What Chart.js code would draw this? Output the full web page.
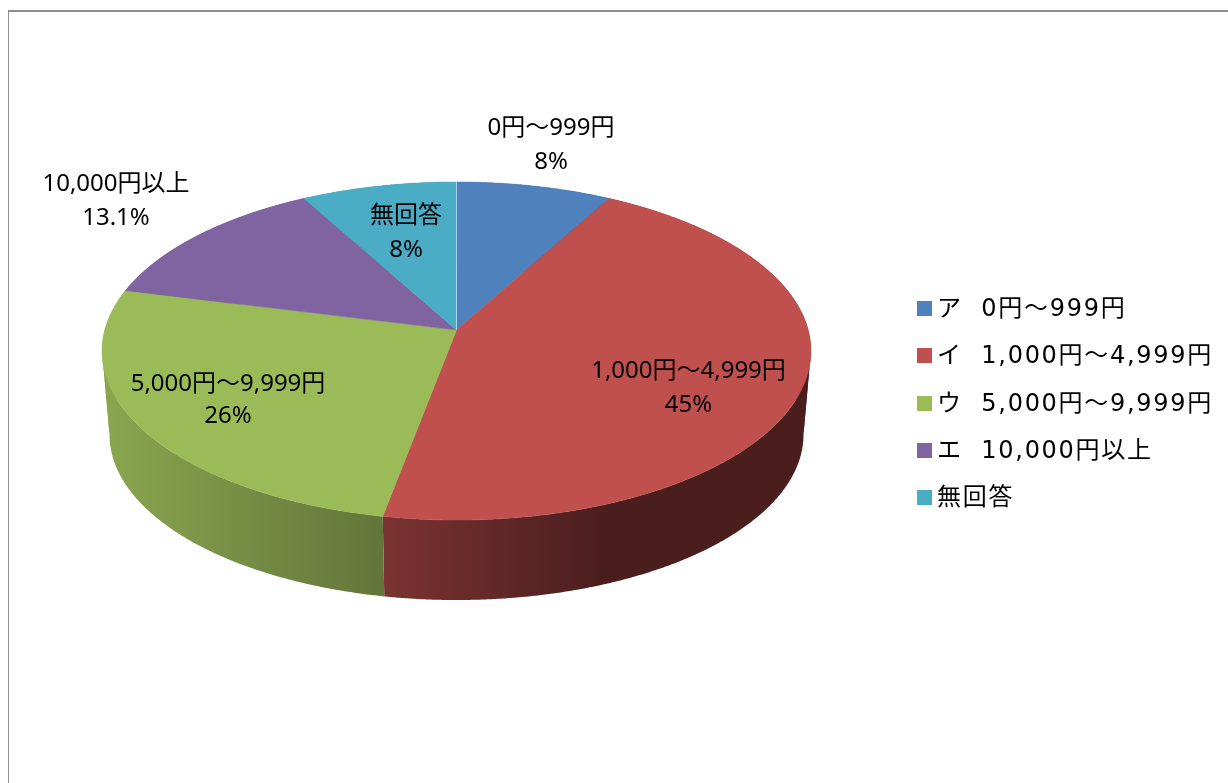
<!DOCTYPE html>
<html lang="ja">
<head>
<meta charset="utf-8">
<title>3D pie</title>
<script src="https://cdn.jsdelivr.net/npm/chart.js@4/dist/chart.umd.min.js"></script>
<style>
  html, body { margin: 0; width: 1228px; height: 783px; overflow: hidden; background: #fff; }
  #frame { position: absolute; left: 8px; top: 10px; right: 0; bottom: 0;
           border-top: 2px solid #8e8e8e; border-left: 1px solid #8e8e8e; }
  #wrap { position: absolute; left: 0; top: 0; width: 1228px; height: 783px; }
  #legend { position: absolute; left: 917px; top: 285px; margin: 0; padding: 0; list-style: none;
            font: 24px "DejaVu Sans", "Noto Sans CJK JP", sans-serif; letter-spacing: 1.7px; color: #000; }
  #legend li { height: 47.25px; line-height: 47.25px; white-space: pre; position: relative; padding-left: 20px; }
  #legend i { position: absolute; left: 0; top: 16px; width: 15px; height: 15px; }
</style>
</head>
<body>
<div id="frame"></div>
<div id="wrap"><canvas id="pie" width="1228" height="783"></canvas></div>
<ul id="legend"></ul>
<script>
// ----------------------------------------------------------------
// Data
// ----------------------------------------------------------------
const legendLabels = ["ア  0円〜999円", "イ  1,000円〜4,999円", "ウ  5,000円〜9,999円", "エ  10,000円以上", "無回答"];
const sliceNames   = ["0円〜999円", "1,000円〜4,999円", "5,000円〜9,999円", "10,000円以上", "無回答"];
const sliceValues  = [8, 45, 26, 13.1, 8];

// Styles and layout, kept apart from the values
const topColors  = ["#4F81BD", "#C0504D", "#9BBB59", "#8064A2", "#4BACC6"];
const wallStarts = ["#3a5f8c", "#7a3331", "#8aa64f", "#5f4a78", "#37808f"];
const wallEnds   = ["#2a4466", "#4b1e1e", "#62753a", "#443557", "#285d68"];
const wallFrom   = [0, -73, -352, -352, -150];   // gradient range, px from the pie centre
const wallTo     = [150, 145, -72, -150, 0];
const labelCentres = [[551, 128], [688.5, 371], [228, 384], [116, 184], [406, 216]];
const labelGaps    = [34, 34, 32, 34, 34];

// Perspective of the 3D pie: a circle tipped back, far side smaller than near side.
const TILT = 0.1243;
const TOP_PLANE    = { drop: 0,    sx: 1.1723, sy: 0.5547 };
const BOTTOM_PLANE = { drop: 0.28, sx: 1.1477, sy: 0.543 };
// Angles where the wall turns from facing us to facing away; a wall polygon
// crossing one folds over itself and would cancel out when filled.
const FOLD_RIGHT = Math.acos(-TILT);
const FOLD_LEFT  = 2 * Math.PI - FOLD_RIGHT;

function project(el, t, plane) {
  const x = Math.sin(t), y = -Math.cos(t);
  const d = 1 - TILT * y;
  const R = el.outerRadius;
  return [el.x + R * plane.sx * x / d, el.y + R * plane.drop + R * plane.sy * y / d];
}

function traceEdge(ctx, el, from, to, plane, first) {
  const steps = Math.max(2, Math.ceil(Math.abs(to - from) / 0.005));
  for (let i = 0; i <= steps; i++) {
    const p = project(el, from + (to - from) * i / steps, plane);
    if (i === 0 && first) ctx.moveTo(p[0], p[1]);
    else ctx.lineTo(p[0], p[1]);
  }
}

function fillWall(ctx, el, a, b, style) {
  ctx.beginPath();
  traceEdge(ctx, el, a, b, TOP_PLANE, true);
  traceEdge(ctx, el, b, a, BOTTOM_PLANE, false);
  ctx.closePath();
  ctx.fillStyle = style;
  ctx.fill();
}

// Chart.js lays out the arcs; this plugin paints them through the projection.
const pie3d = {
  id: "pie3d",
  beforeDatasetDraw(chart, args) {
    const ctx = chart.ctx;
    const arcs = args.meta.data;
    const angles = arcs.map(a => [a.startAngle + Math.PI / 2, a.endAngle + Math.PI / 2]);

    // walls first, the top face covers whatever is behind it
    arcs.forEach((el, i) => {
      const [a, b] = angles[i];
      const g = ctx.createLinearGradient(el.x + wallFrom[i], 0, el.x + wallTo[i], 0);
      g.addColorStop(0, wallStarts[i]);
      g.addColorStop(1, wallEnds[i]);
      const cuts = [a];
      [FOLD_RIGHT, FOLD_LEFT].forEach(f => { if (f > a && f < b) cuts.push(f); });
      cuts.push(b);
      for (let c = 0; c < cuts.length - 1; c++) fillWall(ctx, el, cuts[c], cuts[c + 1], g);
    });

    arcs.forEach((el, i) => {
      const [a, b] = angles[i];
      ctx.beginPath();
      ctx.moveTo(el.x, el.y);
      traceEdge(ctx, el, a, b, TOP_PLANE, false);
      ctx.closePath();
      ctx.fillStyle = topColors[i];
      ctx.strokeStyle = topColors[i];
      ctx.lineWidth = 0.5;
      ctx.fill();
      ctx.stroke();
    });

    // thin light seam where the first and the last slice meet
    const el0 = arcs[0];
    const p = project(el0, angles[0][0], TOP_PLANE);
    ctx.beginPath();
    ctx.moveTo(el0.x, el0.y);
    ctx.lineTo(p[0], p[1]);
    ctx.strokeStyle = "rgba(255,255,255,0.5)";
    ctx.lineWidth = 1;
    ctx.stroke();

    return false;
  },
  afterDatasetsDraw(chart) {
    const ctx = chart.ctx;
    ctx.save();
    ctx.font = '24px "Noto Sans", "Noto Sans CJK JP", sans-serif';
    ctx.fillStyle = "#000";
    ctx.textAlign = "center";
    ctx.textBaseline = "middle";
    sliceNames.forEach((name, i) => {
      const [x, y] = labelCentres[i];
      ctx.fillText(name, x, y);
      ctx.fillText(sliceValues[i] + "%", x, y + labelGaps[i]);
    });
    ctx.restore();
  },
};

new Chart(document.getElementById("pie").getContext("2d"), {
  type: "pie",
  data: {
    labels: sliceNames,
    datasets: [{ data: sliceValues, backgroundColor: topColors, borderWidth: 0 }],
  },
  options: {
    responsive: false,
    animation: false,
    layout: { padding: { left: 156.5, right: 471.5, top: 30, bottom: 153 } },
    plugins: { legend: { display: false }, tooltip: { enabled: false } },
  },
  plugins: [pie3d],
});

// Legend as plain HTML so the row spacing and letter spacing can follow the picture
const legendEl = document.getElementById("legend");
legendLabels.forEach((text, i) => {
  const li = document.createElement("li");
  const box = document.createElement("i");
  box.style.background = topColors[i];
  li.appendChild(box);
  li.appendChild(document.createTextNode(text));
  legendEl.appendChild(li);
});
</script>
</body>
</html>
